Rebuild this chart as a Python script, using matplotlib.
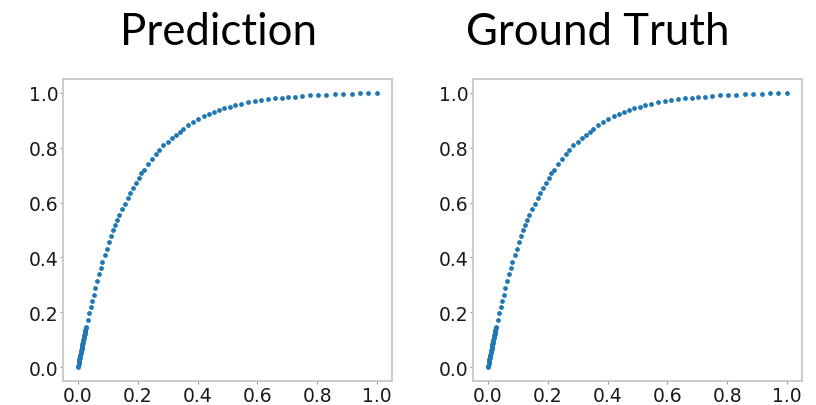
import matplotlib.pyplot as plt

# values (both panels look the same)
pred_x = [0.000, 0.001, 0.002, 0.003, 0.004, 0.005, 0.006, 0.007, 0.008, 0.009,
          0.010, 0.011, 0.012, 0.013, 0.014, 0.015, 0.016, 0.017, 0.018, 0.019,
          0.020, 0.021, 0.022, 0.023, 0.024, 0.025, 0.026, 0.027,
          0.032, 0.037, 0.042, 0.047, 0.052, 0.058, 0.064, 0.070, 0.076, 0.082,
          0.089, 0.096, 0.103, 0.110, 0.117, 0.124, 0.131,
          0.138, 0.148, 0.157, 0.166, 0.175, 0.184, 0.193, 0.203, 0.212, 0.222,
          0.233, 0.246, 0.260, 0.272, 0.285, 0.300, 0.313, 0.327, 0.340, 0.352,
          0.369, 0.385, 0.402,
          0.420, 0.438, 0.456, 0.473, 0.489, 0.507, 0.525, 0.546, 0.569, 0.591,
          0.613, 0.636, 0.659, 0.681, 0.703, 0.726, 0.748, 0.776, 0.804, 0.831,
          0.859, 0.887, 0.915, 0.943, 0.970, 1.000]
pred_y = [0.000, 0.006, 0.012, 0.018, 0.023, 0.029, 0.035, 0.040, 0.046, 0.052,
          0.057, 0.063, 0.068, 0.074, 0.079, 0.085, 0.090, 0.095, 0.101, 0.106,
          0.111, 0.117, 0.122, 0.127, 0.132, 0.137, 0.142, 0.147,
          0.172, 0.196, 0.220, 0.242, 0.264, 0.290, 0.315, 0.338, 0.361, 0.384,
          0.409, 0.432, 0.455, 0.477, 0.499, 0.519, 0.538,
          0.554, 0.576, 0.596, 0.616, 0.636, 0.654, 0.671, 0.689, 0.706, 0.720,
          0.741, 0.760, 0.777, 0.792, 0.808, 0.822, 0.835, 0.847, 0.858, 0.868,
          0.881, 0.892, 0.903,
          0.914, 0.922, 0.930, 0.937, 0.943, 0.949, 0.955, 0.960, 0.965, 0.969,
          0.973, 0.977, 0.980, 0.982, 0.984, 0.986, 0.988, 0.990, 0.991, 0.993,
          0.994, 0.995, 0.997, 0.998, 0.999, 1.000]

truth_x = pred_x
truth_y = pred_y

titles = ['Prediction', 'Ground Truth']
title_x = [218, 598]   # title centres in pixels
ticks = [0.0, 0.2, 0.4, 0.6, 0.8, 1.0]

fig = plt.figure(figsize=(8.16, 4.06), dpi=100)
W, H = 816, 406

boxes = [(63, 80, 392, 382), (473, 80, 802, 382)]
data = [(pred_x, pred_y), (truth_x, truth_y)]

for (l, t, r, b), (xs, ys), title, tx in zip(boxes, data, titles, title_x):
    ax = fig.add_axes([l / W, 1 - b / H, (r - l) / W, (b - t) / H])
    ax.scatter(xs, ys, s=12, color='#1f77b4', linewidths=0)
    ax.set_xlim(-0.05, 1.05)
    ax.set_ylim(-0.05, 1.05)
    ax.set_xticks(ticks)
    ax.set_yticks(ticks)
    ax.set_xticklabels([f'{v:.1f}' for v in ticks])
    ax.set_yticklabels([f'{v:.1f}' for v in ticks])
    ax.tick_params(labelsize=13.5, colors='#999999', labelcolor='#1a1a1a',
                   length=2.5, width=0.8, pad=1)
    for sp in ax.spines.values():
        sp.set_color('#c8c8c8')
        sp.set_linewidth(1.3)
    fig.text(tx / W, 1 - 45 / H, title, ha='center', va='baseline',
             fontsize=31.5, family=['Lato', 'DejaVu Sans'], color='black')

plt.savefig('out.png', dpi=100)
